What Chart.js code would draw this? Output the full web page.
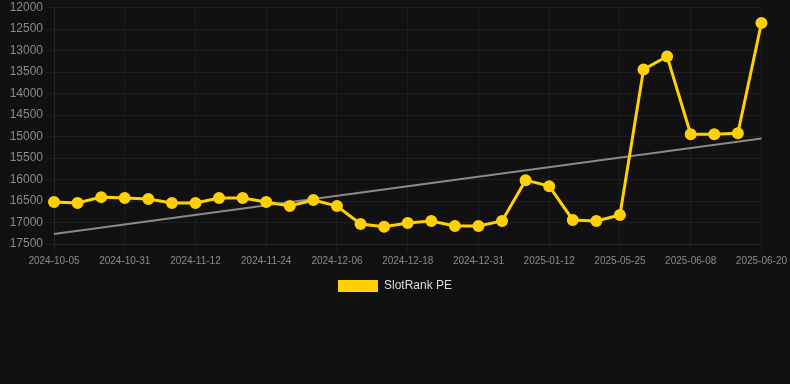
<!DOCTYPE html>
<html>
<head>
<meta charset="utf-8">
<script src="https://cdn.jsdelivr.net/npm/chart.js@4/dist/chart.umd.min.js"></script>
<style>
html,body{margin:0;padding:0;background:#111111;}
#wrap{position:relative;width:790px;height:302px;}
</style>
</head>
<body>
<div id="wrap"><canvas id="c"></canvas></div>
<script>
const categories = ["2024-10-05","2024-10-14","2024-10-23","2024-10-31","2024-11-04","2024-11-08","2024-11-12","2024-11-16","2024-11-20","2024-11-24","2024-11-28","2024-12-02","2024-12-06","2024-12-10","2024-12-14","2024-12-18","2024-12-22","2024-12-27","2024-12-31","2025-01-04","2025-01-08","2025-01-12","2025-01-16","2025-05-21","2025-05-25","2025-05-30","2025-06-04","2025-06-08","2025-06-12","2025-06-16","2025-06-20"];
const slotRankPE = [16525,16548,16410,16430,16455,16548,16548,16430,16430,16525,16617,16478,16617,17035,17100,17013,16965,17080,17080,16965,16015,16155,16940,16965,16826,13440,13137,14947,14947,14924,12360];
const trendValues = [17267,null,null,null,null,null,null,null,null,null,null,null,null,null,null,null,null,null,null,null,null,null,null,null,null,null,null,null,null,null,15047];
const yTicks = [12000,12500,13000,13500,14000,14500,15000,15500,16000,16500,17000,17500];

new Chart(document.getElementById('c'), {
  type: 'line',
  data: {
    labels: categories,
    datasets: [
      {
        label: 'SlotRank PE',
        data: slotRankPE,
        borderColor: '#FFD100',
        backgroundColor: '#FFD100',
        borderWidth: 3,
        pointRadius: 4.5,
        pointHoverRadius: 4.5,
        pointBackgroundColor: '#FFD100',
        pointBorderColor: '#FFD100',
        tension: 0
      },
      {
        label: 'trend',
        data: trendValues,
        borderColor: '#8a8a8a',
        backgroundColor: '#8a8a8a',
        borderWidth: 2,
        pointRadius: 0,
        spanGaps: true
      }
    ]
  },
  options: {
    responsive: true,
    maintainAspectRatio: false,
    animation: false,
    layout: { padding: 0 },
    plugins: {
      legend: {
        position: 'bottom',
        labels: {
          color: '#dddddd',
          font: { size: 12, family: 'Arial, Liberation Sans, sans-serif' },
          boxWidth: 40,
          boxHeight: 12,
          generateLabels: (chart) => {
            const items = Chart.defaults.plugins.legend.labels.generateLabels(chart);
            return items.filter(it => it.text === 'SlotRank PE').map(it => Object.assign(it, { lineWidth: 0, strokeStyle: 'rgba(0,0,0,0)' }));
          }
        }
      },
      tooltip: { enabled: false }
    },
    scales: {
      x: {
        grid: { color: 'rgba(255,255,255,0.05)', tickLength: 8 },
        border: { color: 'rgba(255,255,255,0.05)' },
        ticks: {
          color: '#8a8a8a',
          font: { size: 10, family: 'Arial, Liberation Sans, sans-serif' },
          maxRotation: 0,
          autoSkip: true,
          callback: function(v, i) { return i % 3 === 0 ? categories[i] : null; }
        }
      },
      y: {
        reverse: true,
        min: 12000,
        max: 17500,
        afterBuildTicks: (axis) => { axis.ticks = yTicks.map(v => ({ value: v })); },
        afterFit: (axis) => { axis.width = 54; },
        grid: { color: 'rgba(255,255,255,0.05)', tickLength: 8 },
        border: { color: 'rgba(255,255,255,0.05)' },
        ticks: {
          color: '#8a8a8a',
          font: { size: 12, family: 'Arial, Liberation Sans, sans-serif', lineHeight: 0.7 },
          padding: 3,
          callback: (v) => String(v)
        }
      }
    }
  }
});
</script>
</body>
</html>
